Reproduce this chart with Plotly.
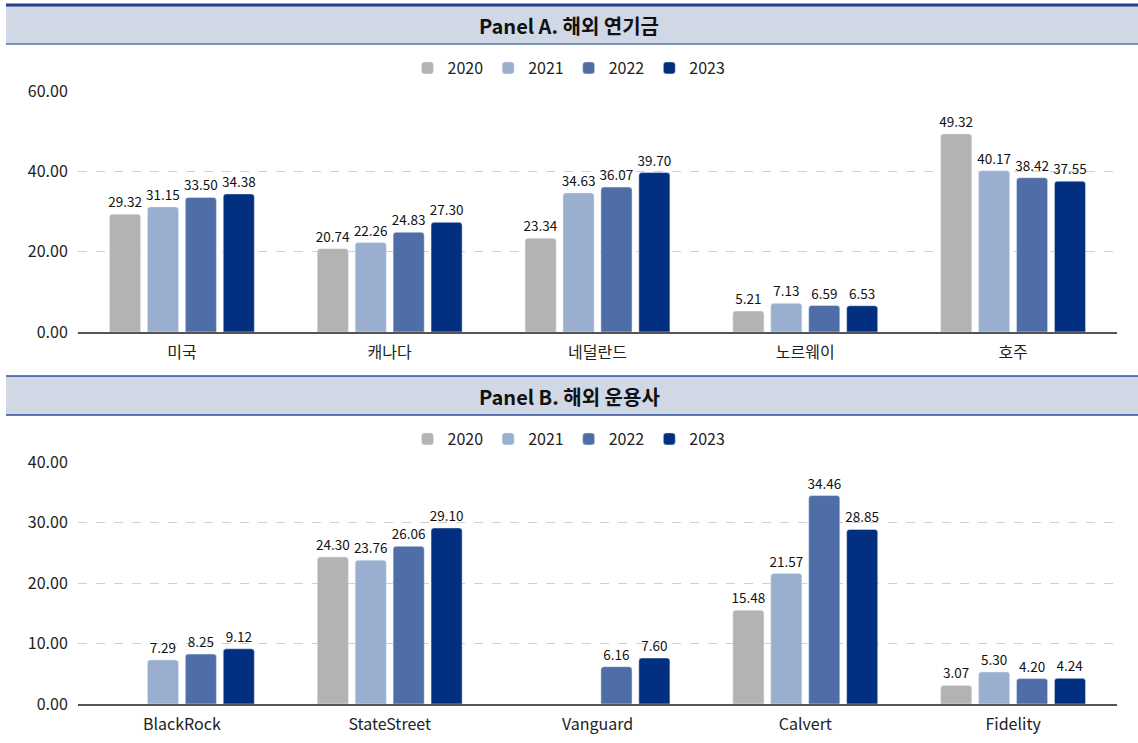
import plotly.graph_objects as go

years = ["2020", "2021", "2022", "2023"]
colors = ["#b3b3b3", "#9aaed0", "#4f6ea8", "#022f80"]

cats_a = ["미국", "캐나다", "네덜란드", "노르웨이", "호주"]
vals_a = {
    "2020": [29.32, 20.74, 23.34, 5.21, 49.32],
    "2021": [31.15, 22.26, 34.63, 7.13, 40.17],
    "2022": [33.50, 24.83, 36.07, 6.59, 38.42],
    "2023": [34.38, 27.30, 39.70, 6.53, 37.55],
}

cats_b = ["BlackRock", "StateStreet", "Vanguard", "Calvert", "Fidelity"]
vals_b = {
    "2020": [None, 24.30, None, 15.48, 3.07],
    "2021": [7.29, 23.76, None, 21.57, 5.30],
    "2022": [8.25, 26.06, 6.16, 34.46, 4.20],
    "2023": [9.12, 29.10, 7.60, 28.85, 4.24],
}

W, H = 1138, 743
FONT = "Noto Sans CJK KR"

def px_y(p):
    return 1 - p / H

def px_x(p):
    return p / W

fig = go.Figure()

for i, y in enumerate(years):
    fig.add_trace(go.Bar(
        x=cats_a, y=vals_a[y], name=y, marker_color=colors[i],
        xaxis="x", yaxis="y", legend="legend",
        texttemplate="%{y:.2f}", textposition="outside", cliponaxis=False,
        constraintext="none",
        textfont=dict(size=13.5, color="#111111", family=FONT),
    ))
for i, y in enumerate(years):
    fig.add_trace(go.Bar(
        x=cats_b, y=vals_b[y], name=y, marker_color=colors[i],
        xaxis="x2", yaxis="y2", legend="legend2",
        texttemplate="%{y:.2f}", textposition="outside", cliponaxis=False,
        constraintext="none",
        textfont=dict(size=13.5, color="#111111", family=FONT),
    ))

xdom = [px_x(78), px_x(1117)]
axis_common = dict(
    tickfont=dict(size=16, color="#222222", family=FONT),
    showline=True, linecolor="#555555", linewidth=1.5,
    ticks="", showgrid=False, automargin=False, ticklabelstandoff=5,
)
yaxis_common = dict(
    tickfont=dict(size=16, color="#222222", family=FONT),
    tickformat=".2f", showgrid=True, gridcolor="#d0d0d0", griddash="dash",
    gridwidth=1, zeroline=False, showline=False, ticks="outside",
    ticklen=6, tickcolor="rgba(0,0,0,0)", automargin=False,
)

shapes = []
# Header A
shapes.append(dict(type="rect", xref="paper", yref="paper",
                   x0=px_x(6), x1=1, y0=px_y(44), y1=px_y(5),
                   fillcolor="#d1d8e5", line=dict(width=0), layer="below"))
shapes.append(dict(type="line", xref="paper", yref="paper",
                   x0=px_x(6), x1=1, y0=px_y(5), y1=px_y(5),
                   line=dict(color="#213f8c", width=3)))
shapes.append(dict(type="line", xref="paper", yref="paper",
                   x0=px_x(6), x1=1, y0=px_y(44), y1=px_y(44),
                   line=dict(color="#5272b0", width=1.5)))
# Header B
shapes.append(dict(type="rect", xref="paper", yref="paper",
                   x0=px_x(6), x1=1, y0=px_y(415), y1=px_y(376),
                   fillcolor="#d1d8e5", line=dict(width=0), layer="below"))
shapes.append(dict(type="line", xref="paper", yref="paper",
                   x0=px_x(6), x1=1, y0=px_y(376), y1=px_y(376),
                   line=dict(color="#2f4f9f", width=1.5)))
shapes.append(dict(type="line", xref="paper", yref="paper",
                   x0=px_x(6), x1=1, y0=px_y(415), y1=px_y(415),
                   line=dict(color="#2f4f9f", width=1.5)))

annotations = [
    dict(text="<b>Panel A. 해외 연기금</b>", xref="paper", yref="paper",
         x=0.5, y=px_y(25), xanchor="center", yanchor="middle", showarrow=False,
         font=dict(size=20, color="#111111", family=FONT)),
    dict(text="<b>Panel B. 해외 운용사</b>", xref="paper", yref="paper",
         x=0.5, y=px_y(396), xanchor="center", yanchor="middle", showarrow=False,
         font=dict(size=20, color="#111111", family=FONT)),
]

legend_common = dict(
    orientation="h", xanchor="center", x=0.5, yanchor="middle",
    font=dict(size=16, color="#222222", family=FONT),
    bgcolor="rgba(0,0,0,0)", itemwidth=30, traceorder="normal",
    itemclick=False,
)

fig.update_layout(
    width=W, height=H,
    margin=dict(l=0, r=0, t=0, b=0, pad=0, autoexpand=False),
    paper_bgcolor="white", plot_bgcolor="white",
    barmode="group", bargap=0.27, bargroupgap=0.18,
    barcornerradius=3,
    font=dict(family=FONT),
    showlegend=True,
    legend=dict(y=px_y(68), **legend_common),
    legend2=dict(y=px_y(439), **legend_common),
    xaxis=dict(domain=xdom, anchor="y", **axis_common),
    yaxis=dict(domain=[px_y(332), px_y(91)], range=[0, 60], dtick=20,
               anchor="x", **yaxis_common),
    xaxis2=dict(domain=xdom, anchor="y2", **axis_common),
    yaxis2=dict(domain=[px_y(704), px_y(462)], range=[0, 40], dtick=10,
                anchor="x2", **yaxis_common),
    shapes=shapes,
    annotations=annotations,
)

fig.write_html("out.html")
